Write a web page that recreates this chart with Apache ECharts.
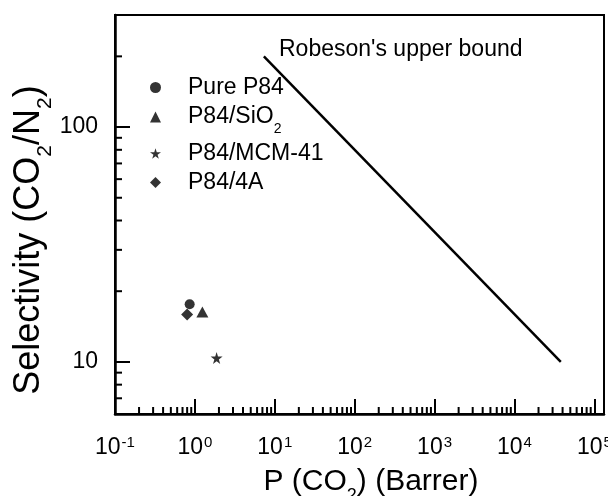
<!DOCTYPE html>
<html>
<head>
<meta charset="utf-8">
<script src="https://cdn.jsdelivr.net/npm/echarts@6/dist/echarts.min.js"></script>
<style>
    html, body { margin: 0; padding: 0; background: #fff; }
    #chart { width: 608px; height: 496px; }
</style>
</head>
<body>
<div id="chart"></div>
<script>
    // data
    const seriesNames = ['Pure P84', 'P84/SiO2', 'P84/MCM-41', 'P84/4A'];
    const pureP84 = [[0.86, 17.6]];
    const p84SiO2 = [[1.24, 16.3]];
    const p84MCM41 = [[1.87, 10.4]];
    const p84_4A = [[0.80, 15.9]];
    const robeson = [[7.3, 200], [38000, 10]];

    // axis ranges and tick values
    const xRange = [0.1, 132000];
    const yRange = [6, 300];
    const xMantissa = [2, 3, 4, 5, 6, 7, 8, 9];
    const xDecades = [0.1, 1, 10, 100, 1000, 10000];
    const yMinorTicks = [7, 8, 9, 20, 30, 40, 50, 60, 70, 80, 90, 200];

    const xMinorTicks = [];
    xDecades.forEach(function (d) {
        xMantissa.forEach(function (m) {
            xMinorTicks.push(+(m * d).toPrecision(3));
        });
    });

    const font = 'Liberation Sans, Arial, sans-serif';
    const star = 'path://M50,0 L61,35 L98,35 L68,57 L79,91 L50,70 L21,91 L32,57 L2,35 L39,35 Z';

    const myChart = echarts.init(document.getElementById('chart'));

    // short minor ticks drawn inside the frame
    function minorTick(axis) {
        return function (params, api) {
            const v = api.value(0);
            let p, q;
            if (axis === 'x') {
                p = api.coord([v, yRange[0]]);
                q = [p[0], p[1] - 7];
            } else {
                p = api.coord([xRange[0], v]);
                q = [p[0] + 7, p[1]];
            }
            return {
                type: 'line',
                shape: {x1: p[0], y1: p[1], x2: q[0], y2: q[1]},
                style: {stroke: '#000', lineWidth: 2}
            };
        };
    }

    myChart.setOption({
        animation: false,
        textStyle: {fontFamily: font},
        grid: {
            left: 115, top: 15, width: 489, height: 399,
            outerBoundsMode: 'none',
            show: true, borderColor: '#000', borderWidth: 2
        },
        legend: {
            orient: 'vertical',
            left: 145, top: 71,
            itemWidth: 11, itemHeight: 11, itemGap: 6,
            data: seriesNames,
            textStyle: {
                fontSize: 23, color: '#000', fontFamily: font, padding: [0, 0, 0, 22],
                rich: {
                    m: {fontSize: 23, fontFamily: font, color: '#000', lineHeight: 24},
                    s: {fontSize: 14, fontFamily: font, color: '#000', lineHeight: 14, verticalAlign: 'top', padding: [17, 0, 0, 0]}
                }
            },
            formatter: function (name) {
                if (name === 'P84/SiO2') {
                    return '{m|P84/SiO}{s|2}';
                }
                return '{m|' + name + '}';
            }
        },
        xAxis: {
            type: 'log',
            logBase: 10,
            min: xRange[0],
            max: xRange[1],
            interval: 1,
            axisLine: {lineStyle: {color: '#000', width: 2.5}},
            axisTick: {inside: true, length: 15, lineStyle: {color: '#000', width: 2}},
            splitLine: {show: false},
            axisLabel: {
                margin: 21,
                showMaxLabel: false,
                formatter: function (v) {
                    return '{b|10}{p|' + Math.round(Math.log10(v)) + '}';
                },
                rich: {
                    b: {fontSize: 23, fontFamily: font, color: '#000', lineHeight: 26},
                    p: {fontSize: 15, fontFamily: font, color: '#000', lineHeight: 15, verticalAlign: 'top', padding: [0, 0, 0, 1]}
                }
            }
        },
        yAxis: {
            type: 'log',
            logBase: 10,
            min: yRange[0],
            max: yRange[1],
            axisLine: {lineStyle: {color: '#000', width: 2.5}},
            axisTick: {inside: true, length: 15, lineStyle: {color: '#000', width: 2}},
            splitLine: {show: false},
            axisLabel: {
                margin: 17,
                fontSize: 23,
                color: '#000',
                fontFamily: font,
                showMinLabel: false,
                showMaxLabel: false
            }
        },
        graphic: [
            {
                type: 'text',
                left: 279, top: 38,
                style: {text: "Robeson's upper bound", fontSize: 23, fontFamily: font, fill: '#000'}
            },
            {
                type: 'text',
                x: 371, y: 482,
                style: {
                    text: '{m|P (CO}{s|2}{m|) (Barrer)}',
                    align: 'center', verticalAlign: 'middle',
                    rich: {
                        m: {fontSize: 30, fontFamily: font, fill: '#000', lineHeight: 30},
                        s: {fontSize: 18, fontFamily: font, fill: '#000', lineHeight: 18, verticalAlign: 'top', padding: [20, 0, 0, 0]}
                    }
                }
            },
            {
                type: 'text',
                x: 29, y: 240,
                rotation: Math.PI / 2,
                style: {
                    text: '{m|Selectivity (CO}{s|2}{m|/N}{s|2}{m|)}',
                    align: 'center', verticalAlign: 'middle',
                    rich: {
                        m: {fontSize: 36, fontFamily: font, fill: '#000', lineHeight: 36},
                        s: {fontSize: 21, fontFamily: font, fill: '#000', lineHeight: 21, verticalAlign: 'top', padding: [24, 0, 0, 0]}
                    }
                }
            }
        ],
        series: [
            {
                name: 'Robeson',
                type: 'line',
                data: robeson,
                symbol: 'none',
                lineStyle: {color: '#000', width: 2.5},
                silent: true
            },
            {
                name: seriesNames[0], type: 'scatter', data: pureP84,
                symbol: 'circle', symbolSize: 10, itemStyle: {color: '#000'}
            },
            {
                name: seriesNames[1], type: 'scatter', data: p84SiO2,
                symbol: 'triangle', symbolSize: [12, 11], itemStyle: {color: '#000'}
            },
            {
                name: seriesNames[2], type: 'scatter', data: p84MCM41,
                symbol: star, symbolSize: 12, itemStyle: {color: '#000'}
            },
            {
                name: seriesNames[3], type: 'scatter', data: p84_4A,
                symbol: 'diamond', symbolSize: 12, itemStyle: {color: '#000'}
            },
            {
                type: 'custom', renderItem: minorTick('x'),
                data: xMinorTicks.map(function (v) { return [v]; }),
                encode: {x: 0}, silent: true, clip: false
            },
            {
                type: 'custom', renderItem: minorTick('y'),
                data: yMinorTicks.map(function (v) { return [v]; }),
                encode: {y: 0}, silent: true, clip: false
            }
        ]
    });
</script>
</body>
</html>
